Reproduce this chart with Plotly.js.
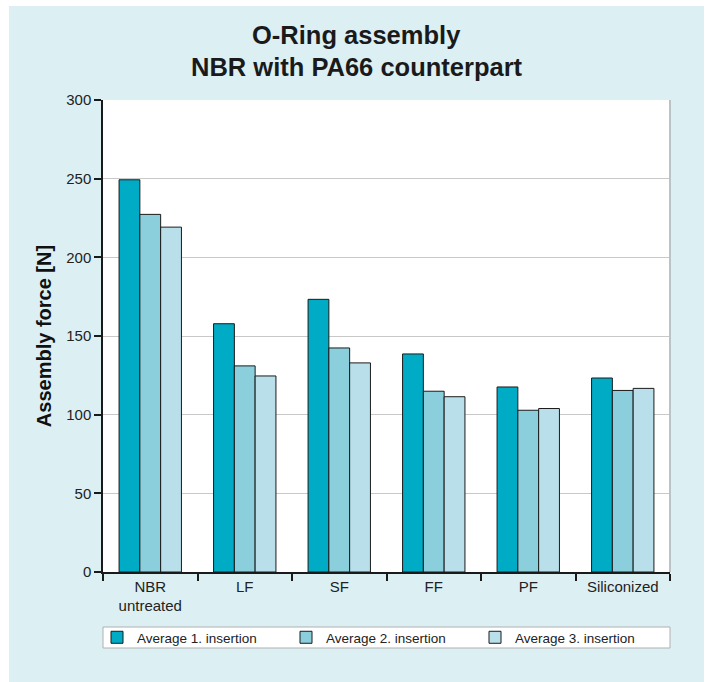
<!DOCTYPE html>
<html>
<head>
<meta charset="utf-8">
<script src="https://cdn.plot.ly/plotly-3.0.1.min.js"></script>
<style>
  html, body { margin: 0; padding: 0; background: #ffffff; }
  #chart { position: absolute; left: 9px; top: 6px; width: 695px; height: 676px; }
</style>
</head>
<body>
<div id="chart"></div>
<script>
const categories = ["NBR<br>untreated", "LF", "SF", "FF", "PF", "Siliconized"];
const seriesNames = ["Average 1. insertion", "Average 2. insertion", "Average 3. insertion"];
const insertion1 = [249.3, 157.8, 173.3, 138.6, 117.6, 123.3];
const insertion2 = [227.3, 131.0, 142.4, 114.9, 102.8, 115.4];
const insertion3 = [219.2, 124.6, 132.9, 111.4, 103.9, 116.7];
const seriesColors = ["#00abc5", "#8bcfdc", "#b9e0ea"];
const titleLines = ["O-Ring assembly", "NBR with PA66 counterpart"];

const seriesValues = [insertion1, insertion2, insertion3];
const traces = seriesValues.map((vals, i) => ({
  type: "bar",
  name: seriesNames[i],
  x: categories,
  y: vals,
  marker: { color: seriesColors[i], line: { color: "#1a1a1a", width: 1 } },
  hoverinfo: "x+y+name"
}));

const plotH = 472, plotW = 567;
const titleX = (347.5 - 94) / plotW;
const layout = {
  width: 695,
  height: 676,
  paper_bgcolor: "#dcf0f4",
  plot_bgcolor: "#ffffff",
  margin: { l: 94, r: 34, t: 94, b: 110, autoexpand: false },
  font: { family: "Liberation Sans, Arial, sans-serif", size: 15, color: "#222222" },
  barmode: "group",
  bargap: 0.34,
  bargroupgap: 0,
  xaxis: {
    type: "category",
    showline: true, linecolor: "#1a1a1a", linewidth: 1.5,
    ticks: "outside", tickson: "boundaries", ticklen: 7, tickcolor: "#1a1a1a", tickwidth: 1.5,
    showgrid: false,
    tickfont: { size: 15, color: "#222222" }
  },
  yaxis: {
    range: [0, 300], dtick: 50,
    showline: true, linecolor: "#1a1a1a", linewidth: 1.5,
    ticks: "outside", ticklen: 7, tickcolor: "#1a1a1a", tickwidth: 1.5,
    showgrid: true, gridcolor: "#c8c8c8", gridwidth: 1,
    zeroline: false,
    tickfont: { size: 15, color: "#222222" },
    title: {
      text: "Assembly force [N]",
      font: { size: 20, color: "#111111", weight: "bold" },
      standoff: 9
    }
  },
  annotations: [
    { text: titleLines[0], xref: "paper", yref: "paper", x: titleX, y: 1 + (94 - 29) / plotH,
      xanchor: "center", yanchor: "middle", showarrow: false,
      font: { size: 25.5, color: "#1a1a1a", weight: "bold" } },
    { text: titleLines[1], xref: "paper", yref: "paper", x: titleX, y: 1 + (94 - 61) / plotH,
      xanchor: "center", yanchor: "middle", showarrow: false,
      font: { size: 25.5, color: "#1a1a1a", weight: "bold" } }
  ],
  shapes: [
    { type: "line", xref: "paper", yref: "paper", x0: 1, x1: 1, y0: 0, y1: 1,
      line: { color: "#b8c4c8", width: 2 } },
    { type: "rect", xref: "paper", yref: "paper", x0: 0, x1: 1,
      y0: -(648 - 572) / plotH, y1: -(627 - 572) / plotH,
      fillcolor: "#ffffff", line: { color: "#b0b0b0", width: 1 }, layer: "below" }
  ],
  legend: {
    orientation: "h",
    x: -6 / plotW, xanchor: "left",
    y: -(631.5 - 566) / plotH, yanchor: "middle",
    bgcolor: "rgba(0,0,0,0)", borderwidth: 0,
    font: { size: 13.5, color: "#222222" },
    entrywidth: 144, entrywidthmode: "pixels",
    itemwidth: 30,
    traceorder: "normal"
  },
  showlegend: true
};

Plotly.newPlot("chart", traces, layout, { displayModeBar: false });
</script>
</body>
</html>
